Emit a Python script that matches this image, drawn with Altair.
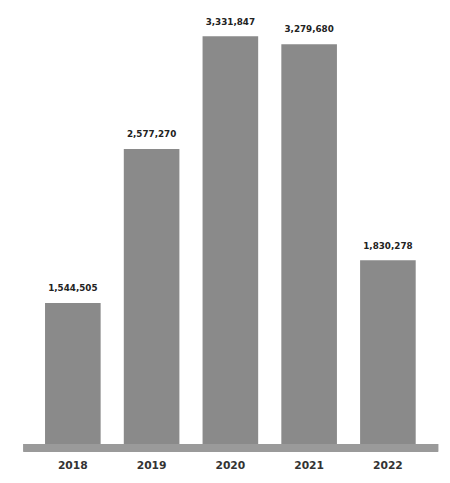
import altair as alt
import pandas as pd

years = ["2018", "2019", "2020", "2021", "2022"]
values = [1544505, 2577270, 3331847, 3279680, 1830278]
labels = ["1,544,505", "2,577,270", "3,331,847", "3,279,680", "1,830,278"]

df = pd.DataFrame({"year": years, "value": values, "label": labels})

W = 424
H = 439

x = alt.X("year:N", sort=years,
          scale=alt.Scale(paddingInner=0.294, paddingOuter=0.272),
          axis=alt.Axis(title=None, labelAngle=0, ticks=False, domain=False,
                        labelPadding=16, labelFontSize=11, labelFontWeight="bold",
                        labelColor="#333333", labelFont="DejaVu Sans"))
y = alt.Y("value:Q", scale=alt.Scale(domain=[600000, 3470000], zero=False, nice=False),
          axis=None)

base = alt.Chart(df)

bars = base.mark_bar(color="#8a8a8a", clip=True).encode(x=x, y=y)
text = base.mark_text(dy=-10, fontSize=9, fontWeight="bold", color="#222222",
                      font="DejaVu Sans", baseline="bottom").encode(x=x, y=y, text="label:N")
rule = alt.Chart(df).mark_rule(color="#9a9a9a", strokeWidth=8).encode(
    x=alt.value(0), x2=alt.value(W + 1), y=alt.value(H + 4))

chart = alt.layer(bars, text, rule).properties(
    width=W, height=H, background="white",
    padding={"left": 12, "top": 2, "right": 0, "bottom": 0},
).configure_view(stroke=None)

chart.save("out.html", embed_options={"renderer": "svg", "actions": False})
